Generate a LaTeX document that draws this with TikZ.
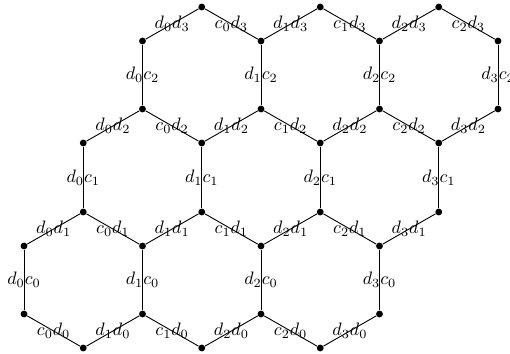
\documentclass[tikz,border=0pt]{standalone}
\begin{document}
\begin{tikzpicture}[x=0.555pt,y=-0.555pt,
  vtx/.style={circle,fill=black,inner sep=0pt,minimum size=3.8pt},
  edge/.style={draw=black,line width=0.5pt},
  lbl/.style={inner sep=0pt}]
\clip (0,0) rectangle (510,354);
% vertices
\foreach \i in {0,...,3}{
  \node[vtx] (u0-\i) at ({24+59.25*(2*\i)},314) {};
  \node[vtx] (v1-\i) at ({24+59.25*(2*\i)},246) {};
  \node[vtx] (h1-\i) at ({24+59.25*(2*\i+1)},212) {};
  \node[vtx] (w2-\i) at ({24+59.25*(2*\i+1)},143) {};
  \node[vtx] (h2-\i) at ({24+59.25*(2*\i+2)},109) {};
  \node[vtx] (w3-\i) at ({24+59.25*(2*\i+2)},41) {};
}
\foreach \i in {0,1,2}{
  \node[vtx] (l0-\i) at ({24+59.25*(2*\i+1)},348) {};
  \node[vtx] (h3-\i) at ({24+59.25*(2*\i+3)},7) {};
}
% level 0
\foreach \i [evaluate=\i as \j using int(\i+1)] in {0,1,2}{
  \draw[edge] (u0-\i) -- node[lbl]{$c_{\i}d_0$} (l0-\i);
  \draw[edge] (l0-\i) -- node[lbl]{$d_{\j}d_0$} (u0-\j);
}
% vertical c0, c1, c2
\foreach \i in {0,...,3}{
  \draw[edge] (u0-\i) -- node[lbl]{$d_{\i}c_0$} (v1-\i);
  \draw[edge] (h1-\i) -- node[lbl]{$d_{\i}c_1$} (w2-\i);
  \draw[edge] (h2-\i) -- node[lbl]{$d_{\i}c_2$} (w3-\i);
  \draw[edge] (v1-\i) -- node[lbl]{$d_{\i}d_1$} (h1-\i);
  \draw[edge] (w2-\i) -- node[lbl]{$d_{\i}d_2$} (h2-\i);
}
\foreach \i [evaluate=\i as \j using int(\i+1)] in {0,1,2}{
  \draw[edge] (h1-\i) -- node[lbl]{$c_{\i}d_1$} (v1-\j);
  \draw[edge] (h2-\i) -- node[lbl]{$c_{\i}d_2$} (w2-\j);
  \draw[edge] (w3-\i) -- node[lbl]{$d_{\i}d_3$} (h3-\i);
  \draw[edge] (h3-\i) -- node[lbl]{$c_{\i}d_3$} (w3-\j);
}
\end{tikzpicture}
\end{document}
